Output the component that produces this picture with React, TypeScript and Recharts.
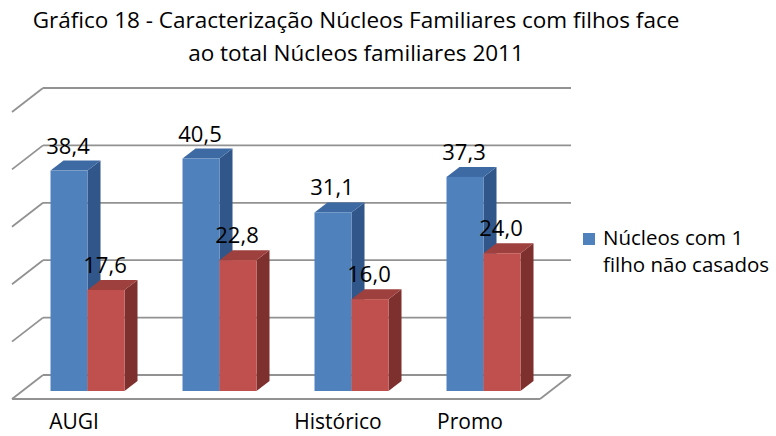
import React from "react";
import { BarChart, Bar, XAxis, YAxis, CartesianGrid, LabelList, Legend } from "recharts";

const categories = ["AUGI", "", "Histórico", "Promo"];
const seriesOne = [38.4, 40.5, 31.1, 37.3];
const seriesTwo = [17.6, 22.8, 16.0, 24.0];
const yTicks = [0, 10, 20, 30, 40, 50];
const seriesNames = ["Núcleos com 1 filho não casados", "Núcleos com 2 ou mais filhos não casados"];
const titleLines = ["Gráfico 18 - Caracterização Núcleos Familiares com filhos face", "ao total Núcleos familiares 2011"];

const data = categories.map((name, i) => ({ name, one: seriesOne[i], two: seriesTwo[i] }));

const FONT = "'Open Sans', 'Noto Sans', sans-serif";
// projection of the 3D scene
const WALL_DX = -31; // back wall -> floor front edge
const WALL_DY = 24;
const FRONT_DX = -21; // back wall -> bar front face
const FRONT_DY = 16;
const DEPTH_DX = 13; // bar depth
const DEPTH_DY = -10;
const GRID = "#929292";

const palette = {
  one: { front: "#4F81BD", top: "#3E6AA4", side: "#31578A" },
  two: { front: "#C0504D", top: "#9E403D", side: "#7E302E" },
};

const make3DBar = (colors: { front: string; top: string; side: string }) => (props: any) => {
  const { x, y, width, height } = props;
  if (width == null || height == null) return <g />;
  const fx = x + FRONT_DX;
  const fy = y + FRONT_DY;
  const w = width;
  const h = height;
  return (
    <g>
      <polygon
        points={`${fx + w},${fy} ${fx + w + DEPTH_DX},${fy + DEPTH_DY} ${fx + w + DEPTH_DX},${fy + h + DEPTH_DY} ${fx + w},${fy + h}`}
        fill={colors.side}
      />
      <polygon
        points={`${fx},${fy} ${fx + DEPTH_DX},${fy + DEPTH_DY} ${fx + w + DEPTH_DX},${fy + DEPTH_DY} ${fx + w},${fy}`}
        fill={colors.top}
      />
      <rect x={fx} y={fy} width={w} height={h} fill={colors.front} />
    </g>
  );
};

const renderValueLabel = (props: any) => {
  const { x, y, width, value } = props;
  const cx = x + width / 2 + FRONT_DX - 1;
  const by = y + FRONT_DY - 17;
  return (
    <text x={cx} y={by} textAnchor="middle" fontFamily={FONT} fontSize={22} fill="#000">
      {Number(value).toFixed(1).replace(".", ",")}
    </text>
  );
};

const renderGridLine = (props: any) => {
  const { x1, y1, x2, index, y, height } = props;
  const isFloor = y != null && height != null ? Math.abs(y1 - (y + height)) < 1 : index === 0;
  return (
    <g key={`g-${index}`}>
      <line x1={x1} y1={y1} x2={x2} y2={y1} stroke={GRID} strokeWidth={1.8} />
      <line x1={x1} y1={y1} x2={x1 + WALL_DX} y2={y1 + WALL_DY} stroke={GRID} strokeWidth={1.8} />
      {isFloor && (
        <g>
          <line x1={x1 + WALL_DX} y1={y1 + WALL_DY} x2={x2 + WALL_DX} y2={y1 + WALL_DY} stroke={GRID} strokeWidth={1.8} />
          <line x1={x2} y1={y1} x2={x2 + WALL_DX} y2={y1 + WALL_DY} stroke={GRID} strokeWidth={1.8} />
        </g>
      )}
    </g>
  );
};

const CategoryTick = (props: any) => {
  const { x, y, payload } = props;
  return (
    <text x={x + WALL_DX - 4} y={y + 46} textAnchor="middle" fontFamily={FONT} fontSize={21} fill="#000">
      {payload.value}
    </text>
  );
};

const renderLegend = (props: any) => {
  const items = (props.payload || []).filter((p: any) => p.dataKey === "one");
  return (
    <div style={{ fontFamily: FONT, fontSize: 20.5, lineHeight: "27px", color: "#000" }}>
      {items.map((p: any) => (
        <div key={p.value} style={{ display: "flex", alignItems: "flex-start" }}>
          <span style={{ width: 12, height: 12, background: palette.one.front, marginTop: 9, marginRight: 8, flex: "0 0 auto" }} />
          <span style={{ width: 176 }}>{p.value}</span>
        </div>
      ))}
    </div>
  );
};

export default function App() {
  return (
    <div style={{ position: "absolute", left: 0, top: 0, width: 776, height: 436, background: "#fff", overflow: "hidden" }}>
      <div
        style={{
          position: "absolute",
          left: 0,
          top: 3,
          width: 712,
          textAlign: "center",
          fontFamily: FONT,
          fontSize: 22.5,
          lineHeight: "33px",
          color: "#000",
        }}
      >
        {titleLines.map((t) => (
          <div key={t}>{t}</div>
        ))}
      </div>
      <BarChart
        width={776}
        height={436}
        data={data}
        margin={{ top: 88, right: 205, left: 43, bottom: 31 }}
        barCategoryGap="21.6%"
        barGap={0}
        style={{ position: "absolute", left: 0, top: 0 }}
      >
        <CartesianGrid vertical={false} horizontal={renderGridLine} />
        <XAxis dataKey="name" axisLine={false} tickLine={false} interval={0} height={30} tick={<CategoryTick />} />
        <YAxis hide domain={[0, 50]} ticks={yTicks} />
        <Bar dataKey="one" name={seriesNames[0]} fill={palette.one.front} shape={make3DBar(palette.one)} isAnimationActive={false}>
          <LabelList dataKey="one" content={renderValueLabel} />
        </Bar>
        <Bar dataKey="two" name={seriesNames[1]} fill={palette.two.front} shape={make3DBar(palette.two)} isAnimationActive={false}>
          <LabelList dataKey="two" content={renderValueLabel} />
        </Bar>
        <Legend
          layout="horizontal"
          verticalAlign="middle"
          align="center"
          content={renderLegend}
          wrapperStyle={{ position: "absolute", left: 583, top: 224, width: 193, height: 60 }}
        />
      </BarChart>
    </div>
  );
}
